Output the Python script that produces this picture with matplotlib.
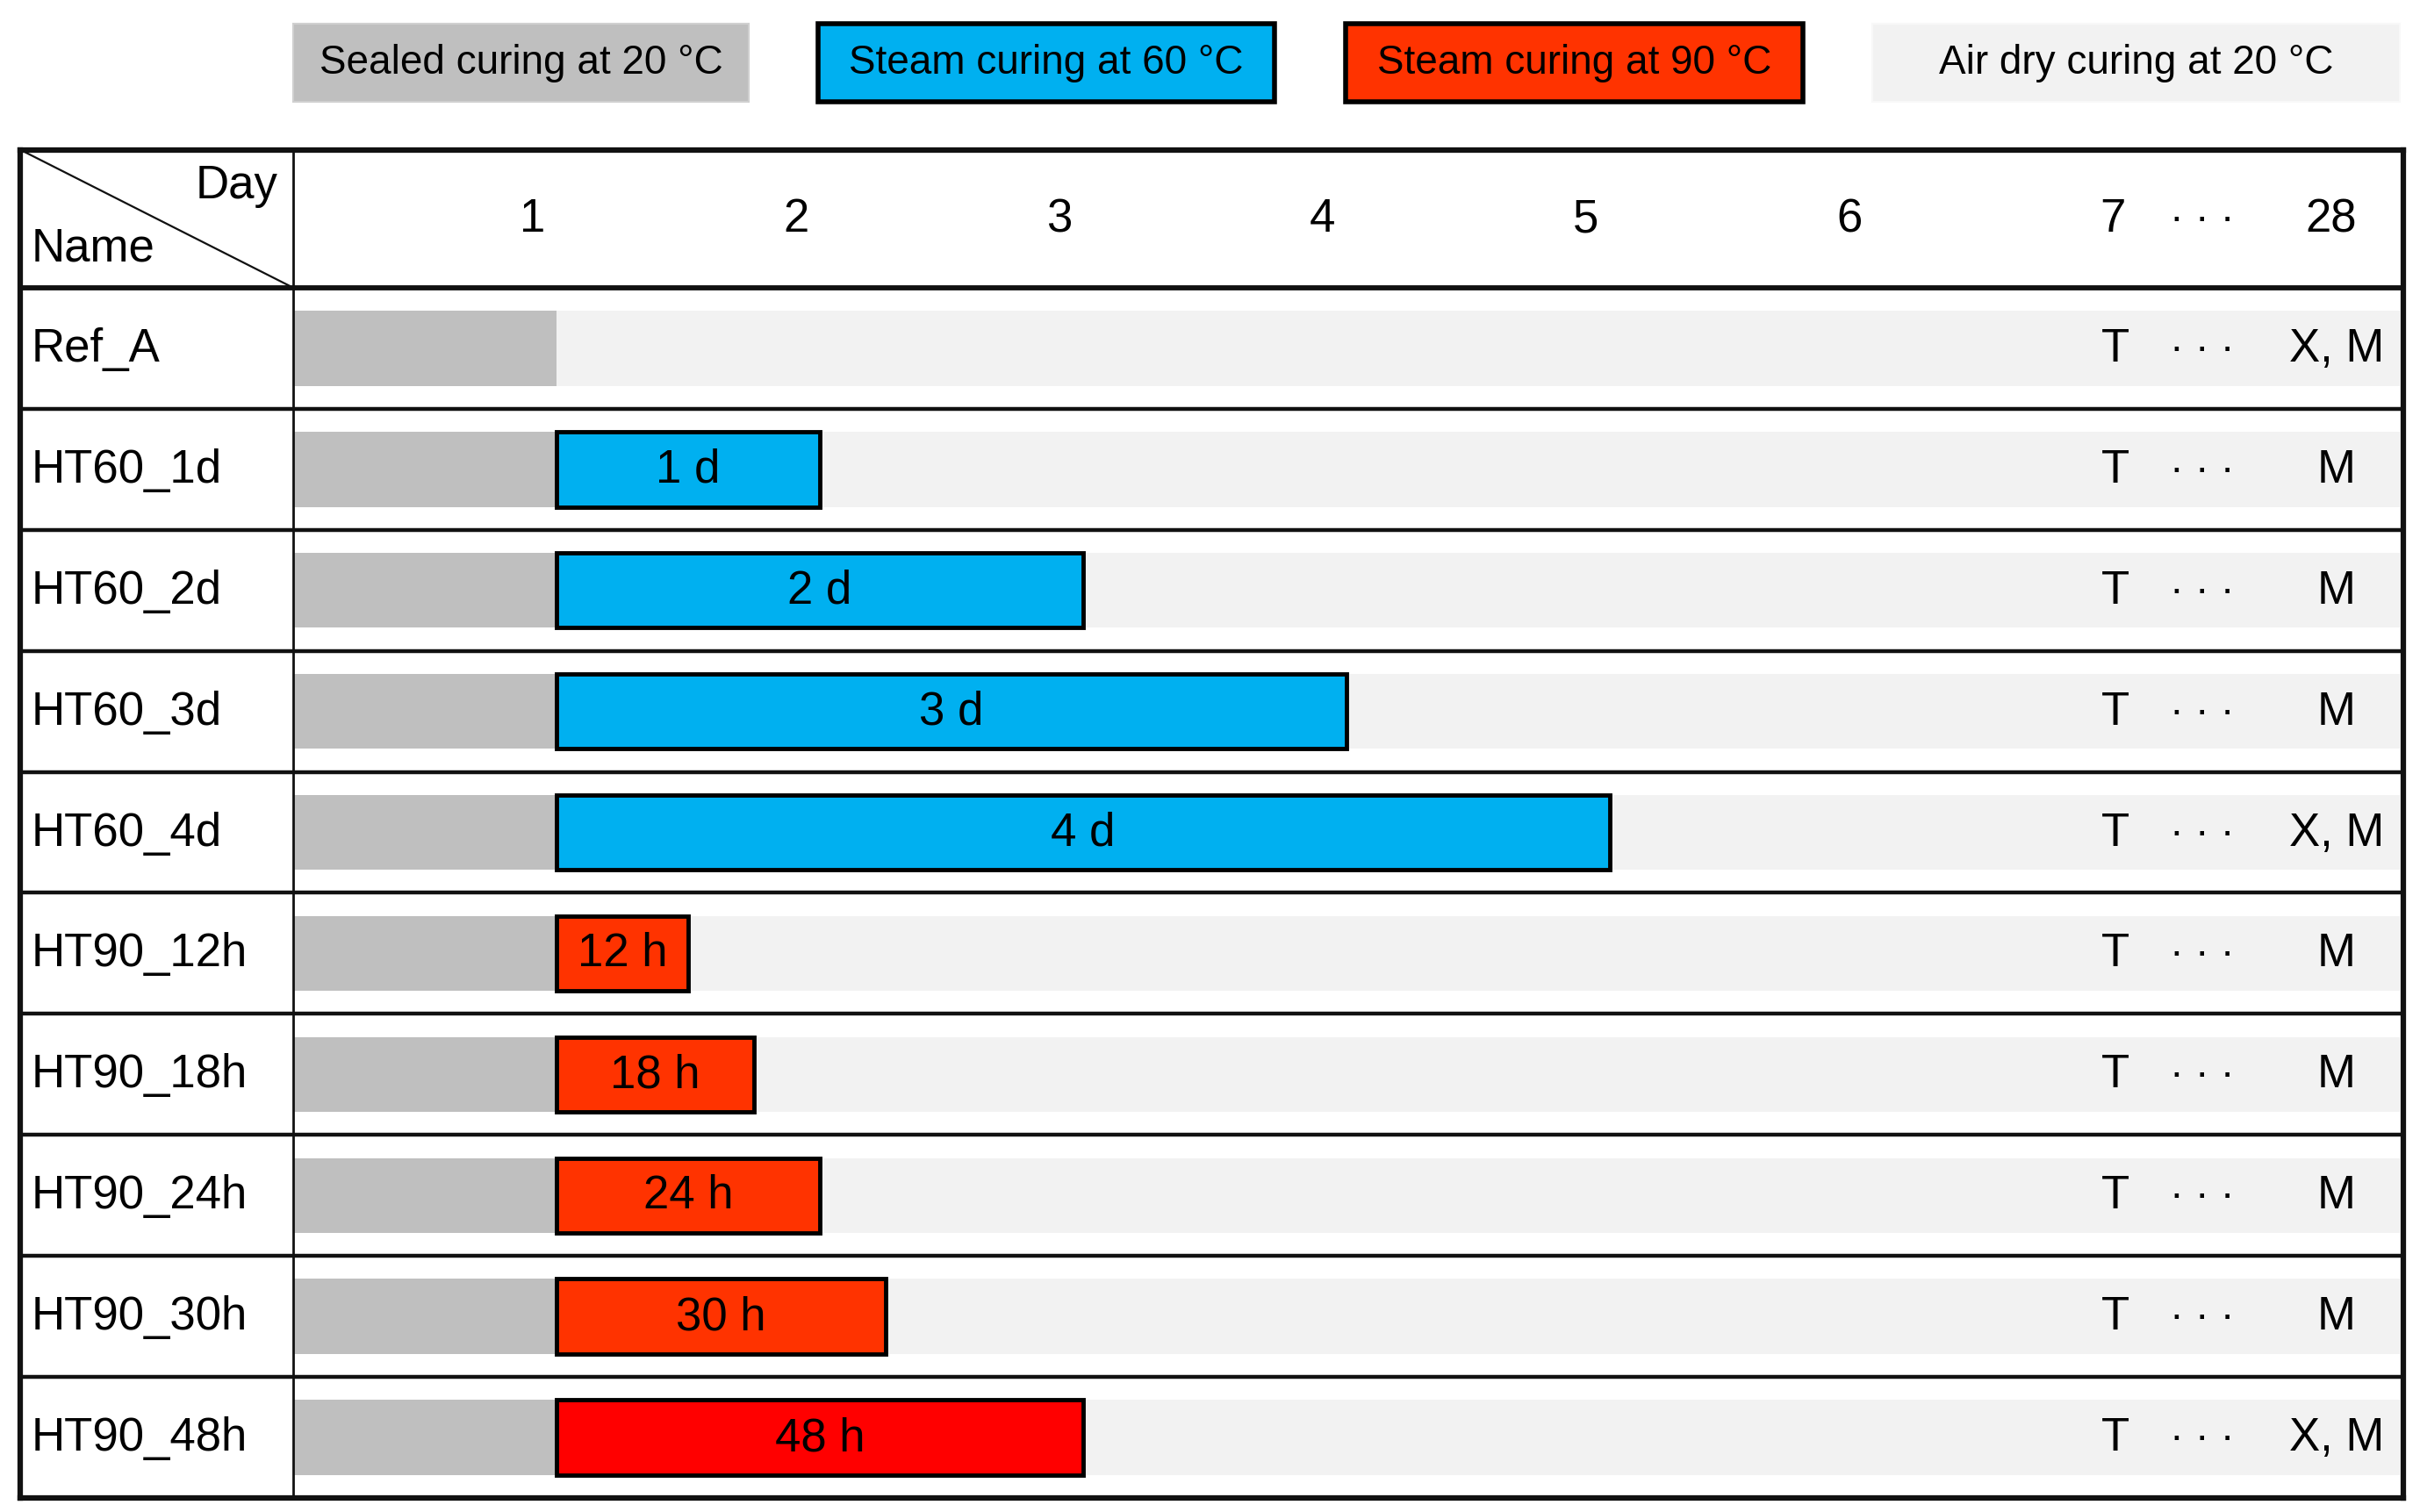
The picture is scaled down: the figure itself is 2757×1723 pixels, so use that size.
import matplotlib
matplotlib.use("Agg")
import matplotlib.pyplot as plt
from matplotlib import font_manager
from matplotlib.patches import Rectangle

# sample names, top to bottom
names = ["Ref_A", "HT60_1d", "HT60_2d", "HT60_3d", "HT60_4d",
         "HT90_12h", "HT90_18h", "HT90_24h", "HT90_30h", "HT90_48h"]
# steam curing duration in days (0 = none)
steam_days = [0, 1, 2, 3, 4, 0.5, 0.75, 1.0, 1.25, 2.0]
steam_labels = ["", "1 d", "2 d", "3 d", "4 d", "12 h", "18 h", "24 h", "30 h", "48 h"]
steam_kind = ["", "60", "60", "60", "60", "90", "90", "90", "90", "90_48"]
end_tests = ["X, M", "M", "M", "M", "X, M", "M", "M", "M", "M", "X, M"]
sealed_days = 1.0
day_labels = ["1", "2", "3", "4", "5", "6", "7", "28"]
legend_labels = ["Sealed curing at 20 °C", "Steam curing at 60 °C",
                 "Steam curing at 90 °C", "Air dry curing at 20 °C"]

colors = {"sealed": "#BFBFBF", "air": "#F2F2F2", "60": "#00B0F0",
          "90": "#FF3300", "90_48": "#FF0000"}


def pick_font(name, fallback):
    try:
        font_manager.findfont(name, fallback_to_default=False)
        return name
    except Exception:
        return fallback


main_font = pick_font("Liberation Sans", "DejaVu Sans")
plt.rcParams["font.family"] = main_font

W, H = 1568.0, 975.0  # layout measured on a 1568x975 grid
fig = plt.figure(figsize=(27.57, 17.24), dpi=100)

# table axes
ax = fig.add_axes([13 / W, 1 - 966 / H, (1557 - 13) / W, (966 - 97) / H])
day0, unit, row_h = 190.0, 170.6, 78.0
xmin, xmax = (13 - day0) / unit, (1557 - day0) / unit
ymin = (97 - 186) / row_h
ax.set_xlim(xmin, xmax)
ax.set_ylim(len(names), ymin)
ax.set_xticks([])
ax.set_yticks([])
for s in ax.spines.values():
    s.set_linewidth(4.5)
    s.set_color("#111111")

bar_h = 0.62
txt = 38
dots = "· · ·"
right_end = (1555 - day0) / unit
for i, name in enumerate(names):
    y = i + 0.5
    # sealed curing
    ax.barh(y, sealed_days, left=0, height=bar_h, color=colors["sealed"], lw=0, zorder=2)
    start = sealed_days + steam_days[i]
    ax.barh(y, right_end - start, left=start, height=bar_h, color=colors["air"], lw=0, zorder=1)
    if steam_days[i] > 0:
        ax.barh(y, steam_days[i], left=sealed_days, height=bar_h,
                color=colors[steam_kind[i]], edgecolor="black", lw=3.5, zorder=3)
        ax.text(sealed_days + steam_days[i] / 2, y, steam_labels[i], ha="center",
                va="center", fontsize=txt, zorder=4)
    ax.text(-0.996, y, name, ha="left", va="center", fontsize=txt)
    ax.text(6.92, y, "T", ha="center", va="center", fontsize=txt, zorder=4)
    ax.text(7.25, y, dots, ha="center", va="center", fontsize=34, zorder=4)
    ax.text(7.76, y, end_tests[i], ha="center", va="center", fontsize=txt, zorder=4)
    if i > 0:
        ax.axhline(i, color="#111111", lw=3.2, zorder=5)

# header
ax.axhline(0, color="#111111", lw=4.2, zorder=5)
ax.axvline(0, color="#111111", lw=2.0, zorder=5)
ax.plot([xmin, 0], [ymin, 0], color="#111111", lw=1.6, zorder=5, clip_on=False)
for k, lab in enumerate(day_labels):
    xpos = k + 1 - 0.09 if lab != "28" else 7.74
    ax.text(xpos, -0.57, lab, ha="center", va="center", fontsize=txt)
ax.text(-0.06, -0.85, "Day", ha="right", va="center", fontsize=txt)
ax.text(-0.996, -0.33, "Name", ha="left", va="center", fontsize=txt)
ax.text(7.25, -0.57, dots, ha="center", va="center", fontsize=34)

# legend boxes
boxes = [(190, 485), (530, 826), (872, 1168), (1213, 1555)]
fills = [colors["sealed"], colors["60"], colors["90"], colors["air"]]
edges = ["#D0D0D0", "black", "black", "#F8F8F8"]
widths = [1.5, 4.0, 4.0, 1.5]
for (x0, x1), lab, fc, ec, lw in zip(boxes, legend_labels, fills, edges, widths):
    fig.patches.append(Rectangle((x0 / W, 1 - 66 / H), (x1 - x0) / W, 50 / H,
                                 transform=fig.transFigure, facecolor=fc,
                                 edgecolor=ec, lw=lw))
    fig.text((x0 + x1) / 2 / W, 1 - 41 / H, lab, ha="center", va="center",
             fontsize=33)

fig.savefig("out.png", dpi=100)
